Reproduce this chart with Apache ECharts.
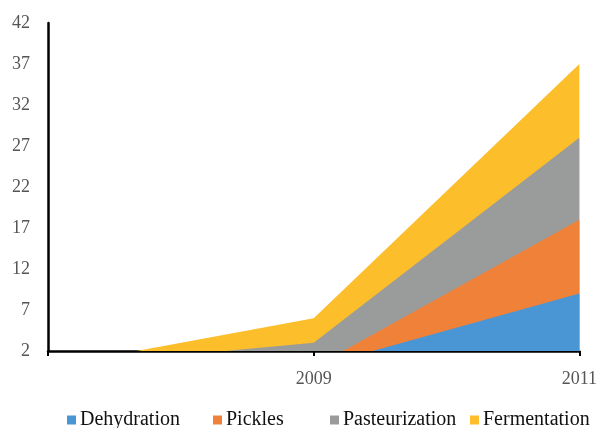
<!DOCTYPE html>
<html><head><meta charset="utf-8">
<script src="https://cdn.jsdelivr.net/npm/echarts@6/dist/echarts.min.js"></script>
<style>html,body{margin:0;padding:0;background:#fff}#c{width:600px;height:428px}</style>
</head><body><div id="c"></div>
<script>
var categories = ['', '2009', '2011'];
var seriesNames = ['Dehydration', 'Pickles', 'Pasteurization', 'Fermentation'];
var dehydration = [0, 0, 9];
var pickles = [0, 0, 9];
var pasteurization = [0, 3, 10];
var fermentation = [0, 3, 9];
var colors = ['#4a96d4', '#f08138', '#9a9c9c', '#fcbe2b'];
var legendLeft = [67, 213, 330, 470];

var values = [dehydration, pickles, pasteurization, fermentation];
// cumulative totals (stacked tops), drawn as overlapping areas from the axis floor
var cumulative = [];
values.forEach(function (arr, i) {
  cumulative.push(arr.map(function (v, j) { return v + (i > 0 ? cumulative[i - 1][j] : 0); }));
});
var chart = echarts.init(document.getElementById('c'));
var font = 'Liberation Serif';
chart.setOption({
  animation: false,
  color: colors,
  grid: {left: 48, right: 17, top: 23, bottom: 77},
  legend: seriesNames.map(function (n, i) {
    return {
      data: [n], left: legendLeft[i], top: 410, padding: 0, icon: 'rect', itemWidth: 9, itemHeight: 9,
      textStyle: {fontFamily: font, fontSize: 20, color: '#111', padding: [0, 0, 0, -1]}
    };
  }),
  xAxis: {
    type: 'category', data: categories, boundaryGap: false,
    axisLine: {lineStyle: {color: '#000', width: 2.5}},
    axisTick: {show: true, length: 5, lineStyle: {color: '#000', width: 2}},
    axisLabel: {fontFamily: font, fontSize: 18, color: '#555', margin: 19}
  },
  yAxis: {
    type: 'value', min: 2, max: 42, interval: 5,
    axisLine: {show: true, lineStyle: {color: '#000', width: 2.5}},
    axisTick: {show: false},
    splitLine: {show: false},
    axisLabel: {fontFamily: font, fontSize: 18, color: '#555', margin: 18}
  },
  series: seriesNames.map(function (n, i) {
    return {
      name: n, type: 'line', data: cumulative[i], z: 10 - i,
      symbol: 'none', lineStyle: {width: 0, color: colors[i]},
      areaStyle: {color: colors[i], opacity: 1, origin: 'start'},
      itemStyle: {color: colors[i]}, clip: true
    };
  })
});
</script></body></html>
